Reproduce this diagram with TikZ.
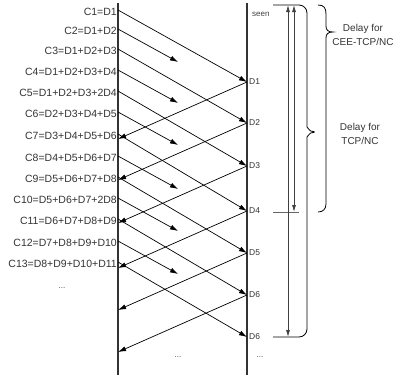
\documentclass[tikz,border=0pt]{standalone}
\usepackage{fontspec}
\setmainfont{Liberation Sans}
\usetikzlibrary{arrows.meta}
\begin{document}
\begin{tikzpicture}[x=1pt,y=-1pt,
  lbl/.style={anchor=east, inner sep=0pt, font=\fontsize{10.5}{12}\selectfont, text=black!80},
  dlbl/.style={anchor=west, inner sep=0pt, font=\fontsize{8.5}{10}\selectfont, text=black!80},
  small/.style={inner sep=0pt, font=\fontsize{8}{10}\selectfont, text=black!75},
  note/.style={inner sep=0pt, align=center, font=\fontsize{10}{14}\selectfont, text=black!80},
  axisline/.style={line width=1.2pt, black!80},
  pkt/.style={line width=0.7pt, -{Latex[length=8pt,width=5pt]}},
  marker/.style={line width=0.8pt, black!60},
  span/.style={line width=0.8pt, black!75, {Latex[length=7pt,width=4pt]}-{Latex[length=7pt,width=4pt]}},
  bracepath/.style={line width=0.8pt, black}]
\useasboundingbox (0,0) rectangle (399,381);

% time lines
\coordinate (LT) at (118,3); \coordinate (LB) at (118,375);
\coordinate (RT) at (247,3); \coordinate (RB) at (247,375);
\draw[axisline] (LT) -- (LB);
\draw[axisline] (RT) -- (RB);

% sender labels and start points
\foreach \i/\y/\t in {1/12/{C1=D1},2/31/{C2=D1+D2},3/51/{C3=D1+D2+D3},4/72/{C4=D1+D2+D3+D4},
  5/93/{C5=D1+D2+D3+2D4},6/114/{C6=D2+D3+D4+D5},7/136/{C7=D3+D4+D5+D6},8/158/{C8=D4+D5+D6+D7},
  9/179/{C9=D5+D6+D7+D8},10/200/{C10=D5+D6+D7+2D8},11/221/{C11=D6+D7+D8+D9},
  12/243/{C12=D7+D8+D9+D10},13/264/{C13=D8+D9+D10+D11}}{
  \node[lbl] (c\i) at (117,\y) {\t};
  \coordinate (s\i) at (118,\y-2);
}
\node[small] (ldots) at (62,288) {...};

% receiver labels and points
\foreach \k/\y/\t in {1/82/D1,2/123/D2,3/166/D3,4/211/D4,5/253/D5,6/295/D6,7/337/D6}{
  \node[dlbl] (d\k) at (249,\y) {\t};
  \coordinate (r\k) at (247,\y);
}
\node[small,anchor=west] (seen) at (252,14) {seen};
\node[small] (rdots) at (260,357) {...};
\node[small] (mdots) at (178,357) {...};

% lost packets
\foreach \i/\y in {2/29,4/70,6/112,8/156,10/198,12/241}{
  \coordinate (m\i) at (178,\y+33);
  \draw[pkt] (s\i) -- (m\i);
}
% delivered packets
\foreach \i/\k in {1/1,3/2,5/3,7/4,9/5,11/6,13/7}{
  \draw[pkt] (s\i) -- (r\k);
}
% acknowledgements
\foreach \k/\y in {1/82,2/123,3/166,4/211,5/253,6/295}{
  \coordinate (b\k) at (118,\y+57);
  \draw[pkt] (r\k) -- (b\k);
}

% delay markers
\coordinate (h1) at (273,5); \coordinate (h2) at (273,337);
\coordinate (h3) at (273,212); \coordinate (h4) at (299,212);
\draw[marker] (h3) -- (h4);
\coordinate (a1t) at (288,5); \coordinate (a1b) at (288,337);
\coordinate (a2t) at (294,5); \coordinate (a2b) at (294,212);
\draw[span] (a1t) -- (a1b);
\draw[span] (a2t) -- (a2b);

% TCP/NC bracket with brace tip
\draw[bracepath, rounded corners=8pt] (h1) -- (307,5) -- (307,119)
  .. controls (307,127) and (310,131) .. (319,132)
  .. controls (310,133) and (307,137) .. (307,145) -- (307,337) -- (h2);

% CEE-TCP/NC brace
\draw[bracepath] (318,5) .. controls (324,5) and (326,8) .. (326,14) -- (326,26)
  .. controls (326,30) and (328,32) .. (333,32)
  .. controls (328,32) and (326,34) .. (326,38) -- (326,204)
  .. controls (326,209) and (323,212) .. (318,212);

\node[note] (n1) at (363,35) {Delay for\\CEE-TCP/NC};
\node[note] (n2) at (360,134) {Delay for\\TCP/NC};
\end{tikzpicture}
\end{document}
